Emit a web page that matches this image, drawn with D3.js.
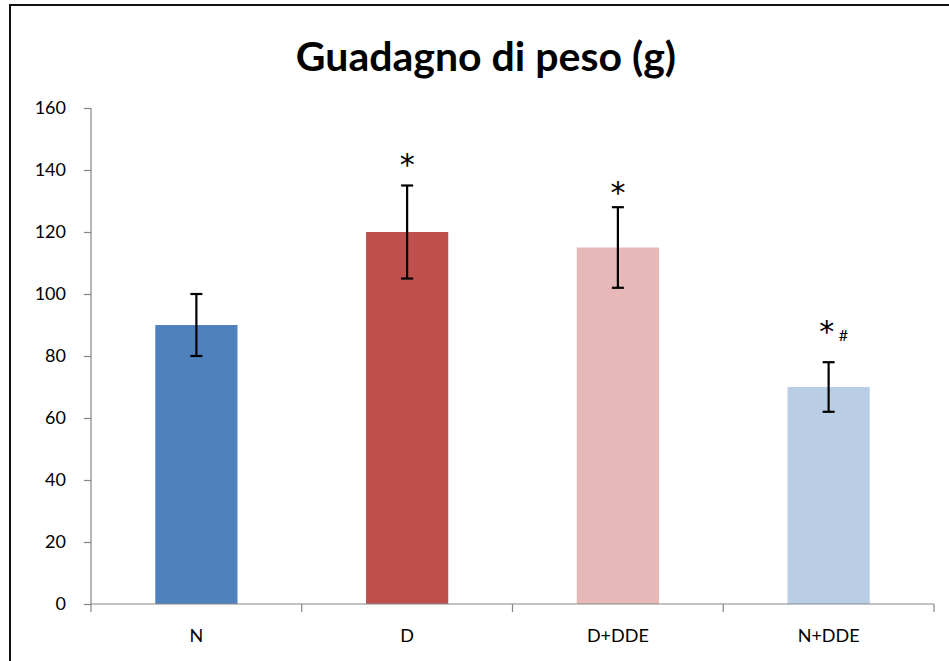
<!DOCTYPE html>
<html>
<head>
<meta charset="utf-8">
<script src="https://cdn.jsdelivr.net/npm/d3@7"></script>
<style>
  body { margin: 0; background: #fff; }
  svg { display: block; font-family: Lato, "Open Sans", sans-serif; }
</style>
</head>
<body>
<svg id="chart" width="949" height="661"></svg>
<script>
// data
const categories = ['N', 'D', 'D+DDE', 'N+DDE'];
const values = [90, 120, 115, 70];
const errors = [10, 15, 13, 8];
const colors = ['#4f81bd', '#c0504d', '#e6b9b8', '#b9cde5'];
const marks = ['', '*', '*', '*'];
const markLevels = [0, 144, 135, 90]; // where the * sits, in axis units
const subMarks = ['', '', '', '#'];
const yTicks = [0, 20, 40, 60, 80, 100, 120, 140, 160];

const svg = d3.select('#chart');

// outer frame
svg.append('rect')
    .attr('x', 10).attr('y', 5)
    .attr('width', 960).attr('height', 680)
    .attr('fill', 'none')
    .attr('stroke', '#111')
    .attr('stroke-width', 2);

const x = d3.scaleBand()
    .domain(categories)
    .range([91, 934])
    .paddingInner(0.61)
    .paddingOuter(0.305);

const y = d3.scaleLinear()
    .domain([0, 160])
    .range([604, 108]);

// title
svg.append('text')
    .attr('x', 486).attr('y', 71)
    .attr('text-anchor', 'middle')
    .attr('font-size', 41)
    .attr('font-weight', 'bold')
    .attr('fill', '#000')
    .text('Guadagno di peso (g)');

// y axis
const yAxis = svg.append('g')
    .attr('transform', 'translate(91,0)')
    .call(d3.axisLeft(y).tickValues(yTicks).tickSize(7).tickPadding(18));
yAxis.selectAll('path, line').attr('stroke', '#868686').attr('stroke-width', 1.2);
yAxis.selectAll('text').attr('font-size', 18).attr('fill', '#000')
    .attr('font-family', 'Lato, "Open Sans", sans-serif');
yAxis.select('.domain').attr('d', 'M0,108V604');

// bars
svg.append('g').selectAll('rect')
    .data(categories)
    .enter().append('rect')
    .attr('x', d => x(d))
    .attr('width', x.bandwidth())
    .attr('y', (d, i) => y(values[i]))
    .attr('height', (d, i) => y(0) - y(values[i]))
    .attr('fill', (d, i) => colors[i]);

// x axis (drawn over the bars' base)
const xAxisG = svg.append('g').attr('transform', 'translate(0,604)');
xAxisG.append('line')
    .attr('x1', 91).attr('x2', 934)
    .attr('stroke', '#868686').attr('stroke-width', 1.2);
const bounds = categories.map(d => x(d) - x.step() * x.paddingInner() / 2);
bounds.push(934);
xAxisG.selectAll('.tk')
    .data(bounds)
    .enter().append('line')
    .attr('x1', d => d).attr('x2', d => d)
    .attr('y1', 0).attr('y2', 8)
    .attr('stroke', '#868686').attr('stroke-width', 1.2);
xAxisG.selectAll('.lbl')
    .data(categories)
    .enter().append('text')
    .attr('x', d => x(d) + x.bandwidth() / 2)
    .attr('y', 38)
    .attr('text-anchor', 'middle')
    .attr('font-size', 18)
    .attr('fill', '#000')
    .text(d => d);

// error bars
const eb = svg.append('g').attr('stroke', '#000').attr('stroke-width', 2.2);
categories.forEach((d, i) => {
    const cx = x(d) + x.bandwidth() / 2;
    const lo = y(values[i] - errors[i]);
    const hi = y(values[i] + errors[i]);
    eb.append('line').attr('x1', cx).attr('x2', cx).attr('y1', lo).attr('y2', hi);
    eb.append('line').attr('x1', cx - 6).attr('x2', cx + 6).attr('y1', lo).attr('y2', lo);
    eb.append('line').attr('x1', cx - 6).attr('x2', cx + 6).attr('y1', hi).attr('y2', hi);
});

// significance marks
categories.forEach((d, i) => {
    if (!marks[i]) return;
    const cx = x(d) + x.bandwidth() / 2;
    const my = y(markLevels[i]);
    svg.append('text')
        .attr('x', subMarks[i] ? cx - 2 : cx)
        .attr('y', my + 17)
        .attr('text-anchor', 'middle')
        .attr('font-family', '"DejaVu Sans", sans-serif')
        .attr('font-size', 30)
        .attr('fill', '#000')
        .text(marks[i]);
    if (subMarks[i]) {
        svg.append('text')
            .attr('x', cx + 10)
            .attr('y', my + 16)
            .attr('font-size', 16)
            .attr('fill', '#000')
            .text(subMarks[i]);
    }
});
</script>
</body>
</html>
